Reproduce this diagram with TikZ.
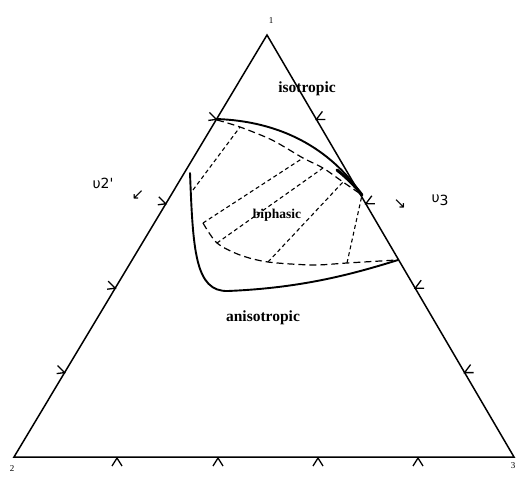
\documentclass[tikz,border=0pt]{standalone}
\usepackage{fontspec}
\setmainfont{Liberation Serif}
\newfontfamily\dvfont{DejaVu Sans}
\usetikzlibrary{calc}
\begin{document}
\begin{tikzpicture}[x=1pt,y=-1pt,
  edge/.style={line width=1.5pt, line join=miter},
  tickmark/.style={line width=1.3pt},
  binodal/.style={line width=1.9pt, line cap=round},
  bound/.style={line width=1.2pt, dash pattern=on 7pt off 4pt},
  tieline/.style={line width=1.1pt, dash pattern=on 4pt off 3pt},
  lbl/.style={font=\bfseries\fontsize{15.5}{15.5}\selectfont, inner sep=0pt},
  vlbl/.style={font=\fontsize{9}{9}\selectfont, inner sep=0pt},
  ulbl/.style={font=\dvfont\fontsize{14}{14}\selectfont, inner sep=0pt},
  albl/.style={font=\dvfont\fontsize{15}{15}\selectfont, inner sep=0pt}]
\useasboundingbox (0,0) rectangle (516,478);
% triangle
\coordinate (V1) at (267,35);
\coordinate (V2) at (14,457);
\coordinate (V3) at (514,457);
\draw[edge] (V1) -- (V2) -- (V3) -- cycle;
% ticks
\foreach \k in {1,2,3,4} {
  \draw[tickmark] ($(V2)!\k/5!(V1)$) ++(-7,-7) -- ++(7,7) -- ++(-8,1);
  \draw[tickmark] ($(V3)!\k/5!(V1)$) ++(6,-8) -- ++(-6,8) -- ++(9,0);
}
\foreach \x in {117,218,318,418} {
  \draw[tickmark] (\x-5,466) -- (\x,458) -- (\x+5,466);
}
% binodal curves (solid)
\coordinate (S1) at (216,119);
\coordinate (S2) at (362,195);
\coordinate (S3) at (190,173);
\coordinate (S4) at (228,291);
\coordinate (S5) at (398,260);
\draw[binodal] (S1) .. controls (280,121) and (330,148) .. (S2);
\draw[line width=3pt, line cap=round] (337,170) .. controls (347,178) and (355,186) .. (S2);
\draw[binodal] (S3) .. controls (193,250) and (195,292) .. (S4)
  .. controls (300,288) and (350,275) .. (S5);
% biphasic boundary (long dashes)
\coordinate (A) at (193,190);
\coordinate (B) at (240,127);
\coordinate (C) at (303,158);
\coordinate (D) at (203,223);
\coordinate (E) at (217,243);
\coordinate (F) at (323,168);
\coordinate (G) at (343,182);
\coordinate (H) at (268,262);
\coordinate (I) at (347,263);
\coordinate (J) at (362,195);
\coordinate (K) at (397,260);
\draw[bound] plot[smooth] coordinates {(217,120) (B) (272,140) (C) (F) (G) (J)};
\draw[bound] plot[smooth] coordinates {(D) (E) (240,255) (H) (313,265) (I) (K)};
% tie lines (short dashes)
\draw[tieline] (A) -- (B);
\draw[tieline] (D) -- (C);
\draw[tieline] (E) -- (F);
\draw[tieline] (H) -- (G);
\draw[tieline] (I) -- (J);
% labels
\node[lbl] (iso) at (307,89) {isotropic};
\node[lbl, font=\bfseries\fontsize{13.5}{13.5}\selectfont] (bi) at (277,215) {biphasic};
\node[lbl] (aniso) at (263,318) {anisotropic};
\node[vlbl] (n1) at (271,21) {1};
\node[vlbl] (n2) at (12,469) {2};
\node[vlbl] (n3) at (513,466) {3};
\node[ulbl] (u2) at (103,183) {υ2'};
\node[albl] (a2) at (138,195) {↙};
\node[albl] (a3) at (400,204) {↘};
\node[ulbl] (u3) at (440,200) {υ\raisebox{-3pt}{3}};
\end{tikzpicture}
\end{document}
